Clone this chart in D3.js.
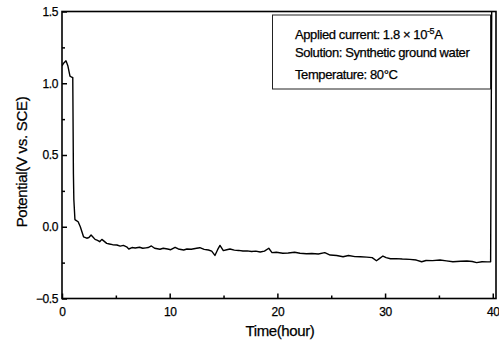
<!DOCTYPE html>
<html><head><meta charset="utf-8">
<script src="https://cdn.jsdelivr.net/npm/d3@7"></script>
<style>body{margin:0;background:#fff}svg{display:block}text{font-family:"Liberation Sans",Arial,sans-serif;fill:#000;stroke:#000;stroke-width:0.25px}</style>
</head><body><svg id="c" width="499" height="345"></svg>
<script>
const time = [0,0.15,0.37,0.55,0.74,0.95,1.0,1.06,1.1,1.2,1.3,1.5,1.7,2.0,2.3,2.5,2.7,2.85,3.07,3.3,3.5,3.7,3.9,4.15,4.4,4.7,5.1,5.4,5.7,6.0,6.2,6.5,6.8,7.2,7.5,7.8,8.0,8.3,8.6,9.1,9.4,9.8,10.1,10.5,10.8,11.3,11.6,12.0,12.5,12.8,13.2,13.6,13.9,14.2,14.45,14.67,14.98,15.3,15.6,16.0,16.4,16.8,17.2,17.6,18.0,18.4,18.8,19.2,19.5,19.9,20.5,21.0,21.6,22.1,22.7,23.2,23.8,24.4,24.9,25.5,26.1,26.6,27.2,27.7,28.3,28.8,29.2,29.5,29.8,30.1,30.5,31.0,31.6,32.3,32.9,33.4,33.8,34.4,35.1,35.7,36.3,37.0,37.6,38.1,38.5,39.0,39.5,39.8,39.9];
const potential = [1.12,1.14,1.156,1.12,1.05,1.04,1.04,0.37,0.19,0.05,0.045,0.035,0.0,-0.07,-0.08,-0.075,-0.058,-0.07,-0.088,-0.095,-0.104,-0.088,-0.1,-0.116,-0.12,-0.125,-0.127,-0.135,-0.13,-0.14,-0.155,-0.145,-0.148,-0.143,-0.15,-0.147,-0.145,-0.134,-0.15,-0.157,-0.15,-0.155,-0.16,-0.143,-0.155,-0.162,-0.155,-0.157,-0.15,-0.146,-0.158,-0.162,-0.17,-0.2,-0.16,-0.13,-0.166,-0.16,-0.155,-0.163,-0.165,-0.169,-0.168,-0.172,-0.17,-0.176,-0.17,-0.15,-0.18,-0.178,-0.185,-0.183,-0.178,-0.185,-0.188,-0.186,-0.19,-0.18,-0.197,-0.2,-0.209,-0.2,-0.208,-0.209,-0.212,-0.215,-0.237,-0.22,-0.204,-0.215,-0.223,-0.222,-0.225,-0.227,-0.232,-0.244,-0.235,-0.236,-0.232,-0.238,-0.244,-0.24,-0.239,-0.242,-0.25,-0.244,-0.245,-0.244,1.5];
const xTicks = [0,10,20,30,40];
const xMinor = [5,15,25,35];
const yTicks = [-0.5,0.0,0.5,1.0,1.5];
const yMinor = [-0.25,0.25,0.75,1.25];
const legendLines = ["Solution: Synthetic ground water","Temperature: 80°C"];

const svg = d3.select("#c");
const L=62,R=496,T=11.5,B=298.5;
const x = d3.scaleLinear().domain([0,40.3]).range([L,R]);
const y = d3.scaleLinear().domain([-0.5,1.5]).range([B,T]);

svg.append("defs").append("clipPath").attr("id","cp").append("rect").attr("x",L).attr("y",T).attr("width",R-L).attr("height",B-T);

const xa = svg.append("g").attr("transform",`translate(0,${B})`)
  .call(d3.axisBottom(x).tickValues(xTicks).tickSize(-5).tickPadding(9).tickFormat(d3.format("d")));
const xm = svg.append("g").attr("transform",`translate(0,${B})`)
  .call(d3.axisBottom(x).tickValues(xMinor).tickSize(-3).tickFormat(""));
const ya = svg.append("g").attr("transform",`translate(${L},0)`)
  .call(d3.axisLeft(y).tickValues(yTicks).tickSize(-5).tickPadding(9).tickFormat(d3.format(".1f")));
const ym = svg.append("g").attr("transform",`translate(${L},0)`)
  .call(d3.axisLeft(y).tickValues(yMinor).tickSize(-3).tickFormat(""));
[xa,xm,ya,ym].forEach(g=>{g.select(".domain").remove();g.selectAll("line").attr("stroke","#000").attr("stroke-width",1.5);
  g.selectAll("text").style("font-size","12px").style("letter-spacing","-0.4px");});
ya.selectAll("text").attr("x",-4);

svg.append("rect").attr("x",L).attr("y",T).attr("width",R-L).attr("height",B-T)
  .attr("fill","none").attr("stroke","#000").attr("stroke-width",1.6);

svg.append("path").datum(d3.zip(time,potential)).attr("clip-path","url(#cp)")
  .attr("d",d3.line().x(d=>x(d[0])).y(d=>y(d[1])))
  .attr("fill","none").attr("stroke","#000").attr("stroke-width",1.4).attr("stroke-linejoin","round");

svg.append("rect").attr("x",272.5).attr("y",15).attr("width",218).attr("height",74)
  .attr("fill","#fff").attr("stroke","#222").attr("stroke-width",1);
const t1 = svg.append("text").attr("x",295).attr("y",39).style("font-size","13px").style("letter-spacing","-0.4px");
t1.append("tspan").text("Applied current: 1.8 × 10");
t1.append("tspan").attr("dy",-5).style("font-size","9px").text("-5");
t1.append("tspan").attr("dy",5).text("A");
svg.selectAll("text.lg").data(legendLines).join("text").attr("class","lg")
  .attr("x",295).attr("y",(d,i)=>[57,79][i]).style("font-size","13px").style("letter-spacing","-0.4px").text(d=>d);

svg.append("text").attr("x",280).attr("y",336).attr("text-anchor","middle")
  .style("font-size","15px").style("letter-spacing","-0.4px").text("Time(hour)");
svg.append("text").attr("transform","translate(27,162) rotate(-90)").attr("text-anchor","middle")
  .style("font-size","15px").style("letter-spacing","-0.3px").text("Potential(V vs. SCE)");
</script></body></html>
